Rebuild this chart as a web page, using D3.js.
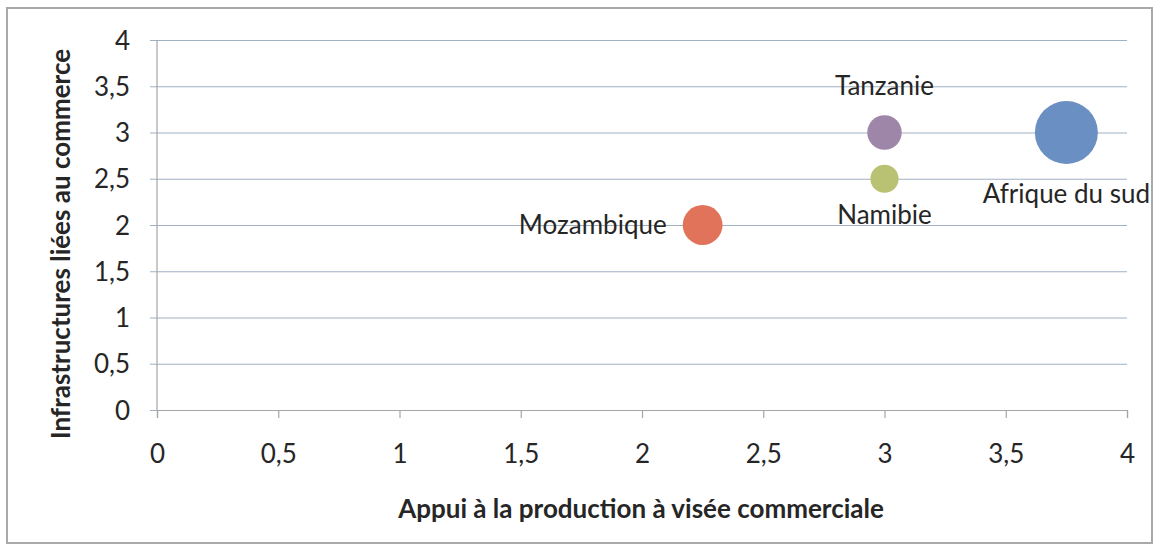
<!DOCTYPE html>
<html>
<head>
<meta charset="utf-8">
<script src="https://cdn.jsdelivr.net/npm/d3@7"></script>
<style>
  body { margin: 0; background: #fff; }
  text { font-family: Lato, "Open Sans", sans-serif; fill: #262626; }
</style>
</head>
<body>
<svg id="chart"></svg>
<script>
// data
const countries = ['Afrique du sud', 'Tanzanie', 'Namibie', 'Mozambique'];
const appuiProduction = [3.75, 3, 3, 2.25];
const infrastructures = [3, 3, 2.5, 2];
const bubbleSizes = [5, 1.5, 1, 2];
const bubbleColors = ['#6a8fc3', '#9e86a8', '#b8c272', '#e0735a'];
const labelSides = ['below', 'above', 'below', 'left'];
const tickValues = [0, 0.5, 1, 1.5, 2, 2.5, 3, 3.5, 4];

const width = 1159, height = 553;
const margin = {top: 40, right: 32, bottom: 143, left: 157};
const innerW = width - margin.left - margin.right;
const innerH = height - margin.top - margin.bottom;

const svg = d3.select('#chart')
  .attr('width', width)
  .attr('height', height);

// outer frame
svg.append('rect')
  .attr('x', 7).attr('y', 8)
  .attr('width', 1145).attr('height', 535)
  .attr('fill', '#fff')
  .attr('stroke', '#a9a9a9')
  .attr('stroke-width', 2);

const chart = svg.append('g')
  .attr('transform', `translate(${margin.left},${margin.top})`);

const x = d3.scaleLinear().domain([0, 4]).range([0, innerW]);
const y = d3.scaleLinear().domain([0, 4]).range([innerH, 0]);
const r = d3.scaleSqrt().domain([0, 5]).range([0, 31.5]);

const fmt = d => String(d).replace('.', ',');

// horizontal gridlines + y axis
const yAxisG = chart.append('g')
  .call(d3.axisLeft(y).tickValues(tickValues).tickFormat(fmt).tickSize(-innerW - 7).tickPadding(0))
  .attr('transform', 'translate(-7,0)');
yAxisG.select('.domain').remove();
yAxisG.selectAll('.tick line')
  .attr('stroke', '#9fb1c2')
  .attr('stroke-width', 1.2);
yAxisG.selectAll('.tick text')
  .attr('x', -20)
  .attr('dy', '0.35em')
  .style('font-size', '26px')
  .style('font-family', 'Lato, sans-serif')
  .attr('fill', '#333');

chart.append('line')
  .attr('x1', 0).attr('x2', 0)
  .attr('y1', 0).attr('y2', innerH)
  .attr('stroke', '#a6a6a6').attr('stroke-width', 1.2);

// x axis
const xAxisG = chart.append('g')
  .attr('transform', `translate(0,${innerH})`)
  .call(d3.axisBottom(x).tickValues(tickValues).tickFormat(fmt).tickSize(8).tickPadding(0));
xAxisG.select('.domain').attr('stroke', '#a6a6a6').attr('stroke-width', 1.2);
xAxisG.selectAll('.tick line').attr('stroke', '#a6a6a6').attr('stroke-width', 1.2);
xAxisG.selectAll('.tick text')
  .attr('y', 53)
  .attr('dy', 0)
  .style('font-size', '26px')
  .style('font-family', 'Lato, sans-serif')
  .attr('fill', '#333');

// axis titles
svg.append('text')
  .attr('x', 641).attr('y', 518)
  .attr('text-anchor', 'middle')
  .style('font-size', '26px')
  .style('font-weight', 'bold')
  .text('Appui à la production à visée commerciale');

svg.append('text')
  .attr('transform', 'translate(70,244) rotate(-90)')
  .attr('text-anchor', 'middle')
  .style('font-size', '26px')
  .style('font-weight', 'bold')
  .text('Infrastructures liées au commerce');

// bubbles
const points = countries.map((c, i) => ({
  name: c,
  x: appuiProduction[i],
  y: infrastructures[i],
  size: bubbleSizes[i],
  color: bubbleColors[i],
  side: labelSides[i]
}));

chart.selectAll('.bubble')
  .data(points)
  .join('circle')
  .attr('class', 'bubble')
  .attr('cx', d => x(d.x))
  .attr('cy', d => y(d.y))
  .attr('r', d => r(d.size))
  .attr('fill', d => d.color);

chart.selectAll('.label')
  .data(points)
  .join('text')
  .attr('class', 'label')
  .style('font-size', '26px')
  .attr('text-anchor', d => d.side === 'left' ? 'end' : 'middle')
  .attr('x', d => d.side === 'left' ? x(d.x) - r(d.size) - 16 : x(d.x))
  .attr('y', d => {
    if (d.side === 'above') return y(d.y) - r(d.size) - 20;
    if (d.side === 'below') return y(d.y) + r(d.size) + (d.size > 3 ? 39 : 31);
    return y(d.y);
  })
  .attr('dy', d => d.side === 'left' ? '0.35em' : 0)
  .text(d => d.name);
</script>
</body>
</html>
